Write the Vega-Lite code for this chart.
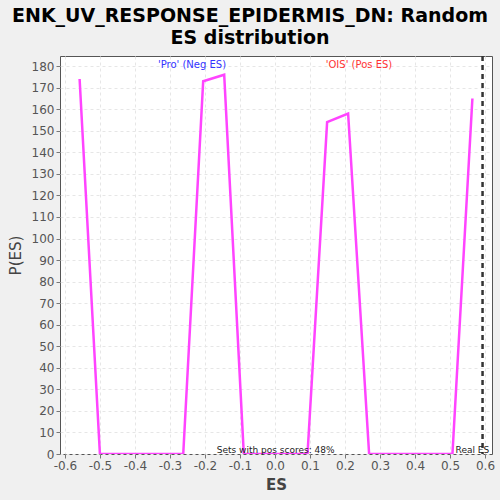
{
  "$schema": "https://vega.github.io/schema/vega-lite/v6.json",
  "autosize": "none",
  "width": 432,
  "height": 398,
  "padding": {"left": 60, "top": 56, "right": 8, "bottom": 46},
  "background": "#f0f0f0",
  "title": {
    "text": ["ENK_UV_RESPONSE_EPIDERMIS_DN: Random", "ES distribution"],
    "font": "DejaVu Sans",
    "fontSize": 19,
    "fontWeight": "bold",
    "color": "#000000",
    "lineHeight": 22,
    "anchor": "middle",
    "dx": -26,
    "offset": 7
  },
  "config": {
    "view": {"fill": "white", "stroke": "#555555", "strokeWidth": 1},
    "axis": {
      "labelFont": "DejaVu Sans",
      "labelFontSize": 12,
      "labelColor": "#555555",
      "labelOverlap": false,
      "titleFont": "DejaVu Sans",
      "titleFontSize": 15,
      "titleColor": "#444444",
      "titleFontWeight": "bold",
      "gridColor": "#e6e6e6",
      "gridDash": [3, 3],
      "gridWidth": 1,
      "domain": false,
      "tickColor": "#777777",
      "tickSize": 4
    }
  },
  "datasets": {
    "dist": [
      {"es": -0.558, "p": 174},
      {"es": -0.5, "p": 0},
      {"es": -0.441, "p": 0},
      {"es": -0.381, "p": 0},
      {"es": -0.322, "p": 0},
      {"es": -0.262, "p": 0},
      {"es": -0.205, "p": 173},
      {"es": -0.145, "p": 176},
      {"es": -0.089, "p": 0},
      {"es": -0.03, "p": 0},
      {"es": 0.032, "p": 0},
      {"es": 0.093, "p": 0},
      {"es": 0.149, "p": 154},
      {"es": 0.209, "p": 158},
      {"es": 0.269, "p": 0},
      {"es": 0.329, "p": 0},
      {"es": 0.388, "p": 0},
      {"es": 0.448, "p": 0},
      {"es": 0.507, "p": 0},
      {"es": 0.564, "p": 165}
    ],
    "real": [{"es": 0.593}],
    "labels": [
      {"es": -0.237, "p": 180.5, "label": "'Pro' (Neg ES)", "kind": "neg"},
      {"es": 0.24, "p": 180.5, "label": "'OIS' (Pos ES)", "kind": "pos"}
    ],
    "foot": [
      {"es": 0.002, "p": 0, "label": "Sets with pos scores: 48%"},
      {"es": 0.564, "p": 0, "label": "Real ES"}
    ]
  },
  "layer": [
    {
      "data": {"name": "dist"},
      "mark": {"type": "line", "color": "#ff44ff", "strokeWidth": 2.5, "clip": true},
      "encoding": {
        "x": {
          "field": "es", "type": "quantitative",
          "scale": {"domain": [-0.614, 0.62], "nice": false, "zero": false},
          "axis": {"values": [-0.6, -0.5, -0.4, -0.3, -0.2, -0.1, 0, 0.1, 0.2, 0.3, 0.4, 0.5, 0.6], "format": ".1f", "labelExpr": "replace(datum.label, '−', '-')", "title": "ES", "titlePadding": 6}
        },
        "y": {
          "field": "p", "type": "quantitative",
          "scale": {"domain": [0, 184.7], "nice": false},
          "axis": {"values": [0, 10, 20, 30, 40, 50, 60, 70, 80, 90, 100, 110, 120, 130, 140, 150, 160, 170, 180], "tickCount": 19, "title": "P(ES)", "titlePadding": 8, "titleFontWeight": "normal"}
        }
      }
    },
    {
      "data": {"name": "real"},
      "mark": {"type": "rule", "color": "#333333", "strokeWidth": 2.5, "strokeDash": [5, 4]},
      "encoding": {"x": {"field": "es", "type": "quantitative", "axis": {"values": [-0.6, -0.5, -0.4, -0.3, -0.2, -0.1, 0, 0.1, 0.2, 0.3, 0.4, 0.5, 0.6], "format": ".1f", "labelExpr": "replace(datum.label, '−', '-')", "title": "ES", "titlePadding": 6}}}
    },
    {
      "data": {"name": "labels"},
      "mark": {"type": "text", "font": "DejaVu Sans", "fontSize": 10, "baseline": "middle", "align": "center"},
      "encoding": {
        "x": {"field": "es", "type": "quantitative", "axis": {"values": [-0.6, -0.5, -0.4, -0.3, -0.2, -0.1, 0, 0.1, 0.2, 0.3, 0.4, 0.5, 0.6], "format": ".1f", "labelExpr": "replace(datum.label, '−', '-')", "title": "ES", "titlePadding": 6}},
        "y": {"field": "p", "type": "quantitative", "axis": {"values": [0, 10, 20, 30, 40, 50, 60, 70, 80, 90, 100, 110, 120, 130, 140, 150, 160, 170, 180], "tickCount": 19, "title": "P(ES)", "titlePadding": 8, "titleFontWeight": "normal"}},
        "text": {"field": "label"},
        "color": {"field": "kind", "type": "nominal", "scale": {"domain": ["neg", "pos"], "range": ["#3333ff", "#ff3333"]}, "legend": null}
      }
    },
    {
      "data": {"name": "foot"},
      "mark": {"type": "text", "font": "DejaVu Sans", "fontSize": 9, "baseline": "bottom", "align": "center", "color": "#222222", "dy": 1},
      "encoding": {
        "x": {"field": "es", "type": "quantitative", "axis": {"values": [-0.6, -0.5, -0.4, -0.3, -0.2, -0.1, 0, 0.1, 0.2, 0.3, 0.4, 0.5, 0.6], "format": ".1f", "labelExpr": "replace(datum.label, '−', '-')", "title": "ES", "titlePadding": 6}},
        "y": {"field": "p", "type": "quantitative", "axis": {"values": [0, 10, 20, 30, 40, 50, 60, 70, 80, 90, 100, 110, 120, 130, 140, 150, 160, 170, 180], "tickCount": 19, "title": "P(ES)", "titlePadding": 8, "titleFontWeight": "normal"}},
        "text": {"field": "label"}
      }
    }
  ]
}
